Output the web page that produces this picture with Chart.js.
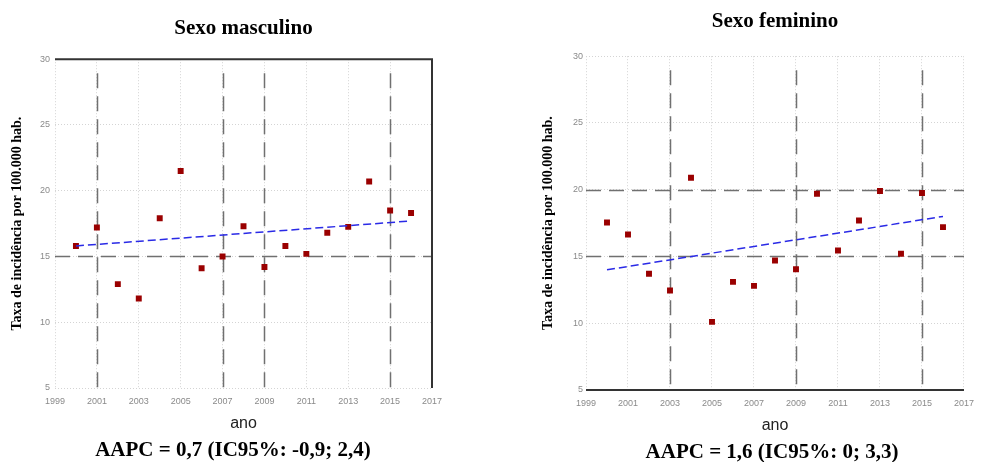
<!DOCTYPE html>
<html lang="pt">
<head>
<meta charset="utf-8">
<title>Taxa de incidência por sexo</title>
<script src="https://cdn.jsdelivr.net/npm/chart.js@4/dist/chart.umd.min.js"></script>
<style>
    body { margin: 0; background: #fff; }
    #wrap { position: relative; width: 982px; height: 462px; overflow: hidden; }
    canvas { position: absolute; top: 0; }
    #c-male { left: 0; }
    #c-female { left: 491px; }
    .aapc {
        position: absolute; width: 400px; text-align: center;
        font: bold 21px 'Liberation Serif', 'Times New Roman', serif; color: #000;
        line-height: 24px;
    }
</style>
</head>
<body>
<div id="wrap">
    <canvas id="c-male" width="491" height="462"></canvas>
    <canvas id="c-female" width="491" height="462"></canvas>
    <div class="aapc" id="aapc-male" style="left:33px; top:437px;">AAPC = 0,7 (IC95%: -0,9; 2,4)</div>
    <div class="aapc" id="aapc-female" style="left:572px; top:439px;">AAPC = 1,6 (IC95%: 0; 3,3)</div>
</div>
<script>
// --- 1. 資料 ---
const years = [2000, 2001, 2002, 2003, 2004, 2005, 2006, 2007, 2008, 2009, 2010, 2011, 2012, 2013, 2014, 2015, 2016];
const maleRates = [15.8, 17.2, 12.9, 11.8, 17.9, 21.5, 14.1, 15.0, 17.3, 14.2, 15.8, 15.2, 16.8, 17.25, 20.7, 18.5, 18.3];
const femaleRates = [17.55, 16.65, 13.7, 12.45, 20.9, 10.1, 13.1, 12.8, 14.7, 14.05, 19.7, 15.45, 17.7, 19.9, 15.2, 19.75, 17.2];

// 趨勢線 (起點、終點)
const trendYears = [2000, 2016];
const maleTrend = [15.8, 17.7];
const femaleTrend = [14.0, 18.0];

// 座標軸
const yearTicks = [1999, 2001, 2003, 2005, 2007, 2009, 2011, 2013, 2015, 2017];
const rateTicks = [5, 10, 15, 20, 25, 30];

// 深色虛線格線
const maleDashYears = [2001, 2007, 2009, 2015];
const maleDashRates = [15];
const femaleDashYears = [2003, 2009, 2015];
const femaleDashRates = [15, 20];

Chart.defaults.font.family = "'Liberation Sans', Arial, sans-serif";
const serif = "'Liberation Serif', 'Times New Roman', serif";

// --- 2. 虛線與外框 ---
const refLines = {
    id: 'refLines',
    beforeDatasetsDraw(chart, args, opts) {
        const { ctx, chartArea: a, scales: { x, y } } = chart;
        ctx.save();
        ctx.strokeStyle = '#707070';
        ctx.lineWidth = 1.5;
        ctx.setLineDash([15, 8]);
        opts.years.forEach(v => {
            const px = Math.round(x.getPixelForValue(v)) + 0.5;
            ctx.beginPath();
            ctx.moveTo(px, a.top + 14);
            ctx.lineTo(px, a.bottom);
            ctx.stroke();
        });
        opts.rates.forEach(v => {
            const py = Math.round(y.getPixelForValue(v)) + 0.5;
            ctx.beginPath();
            ctx.moveTo(a.left, py);
            ctx.lineTo(a.right, py);
            ctx.stroke();
        });
        ctx.setLineDash([]);
        ctx.strokeStyle = '#333';
        ctx.lineWidth = 2;
        if (opts.frame) {
            ctx.beginPath();
            ctx.moveTo(a.left, a.top);
            ctx.lineTo(a.right, a.top);
            ctx.lineTo(a.right, a.bottom);
            ctx.stroke();
        }
        if (opts.baseline) {
            ctx.beginPath();
            ctx.moveTo(a.left, a.bottom);
            ctx.lineTo(a.right, a.bottom);
            ctx.stroke();
        }
        ctx.restore();
    }
};

function toPoints(xs, ys) {
    return xs.map((v, i) => ({ x: v, y: ys[i] }));
}

function createPanel(id, cfg) {
    const ctx = document.getElementById(id);
    return new Chart(ctx, {
        type: 'scatter',
        data: {
            datasets: [{
                label: 'Taxa',
                data: toPoints(years, cfg.rates),
                pointStyle: 'rect',
                pointRadius: 4.2,
                backgroundColor: '#9a0000',
                borderColor: '#9a0000',
                borderWidth: 0,
                order: 2
            }, {
                type: 'line',
                label: 'Tendência',
                data: toPoints(trendYears, cfg.trend),
                borderColor: '#2a2ae6',
                borderWidth: 1.5,
                borderDash: [8, 4],
                pointRadius: 0,
                fill: false,
                order: 1
            }]
        },
        options: {
            responsive: false,
            animation: false,
            layout: { padding: cfg.padding },
            plugins: {
                legend: { display: false },
                tooltip: { enabled: false },
                title: {
                    display: true,
                    text: cfg.title,
                    fullSize: false,
                    color: '#000',
                    font: { family: serif, size: 21, weight: 'bold' },
                    padding: cfg.titlePad
                },
                refLines: { years: cfg.dashYears, rates: cfg.dashRates, frame: cfg.frame, baseline: cfg.baseline }
            },
            scales: {
                x: {
                    type: 'linear',
                    min: 1999, max: 2017,
                    afterBuildTicks: s => { s.ticks = yearTicks.map(v => ({ value: v })); },
                    afterFit: s => { s.height = 45; },
                    ticks: { color: '#8a8a8a', font: { size: 9 }, padding: 8, maxRotation: 0, callback: v => String(v) },
                    grid: { color: '#d4d4d4', drawTicks: false },
                    border: { display: false, dash: [1, 2] },
                    title: { display: true, text: 'ano', color: '#222', font: { size: 16 }, padding: { top: 0, bottom: cfg.anoPad } }
                },
                y: {
                    min: 5, max: 30,
                    afterBuildTicks: s => { s.ticks = rateTicks.map(v => ({ value: v })); },
                    afterFit: s => { s.width = 55; },
                    ticks: { color: '#8a8a8a', font: { size: 9 }, padding: cfg.yTickPad },
                    grid: { color: '#d4d4d4', drawTicks: false },
                    border: { display: false, dash: [1, 2] },
                    title: {
                        display: true,
                        text: 'Taxa de incidência por 100.000 hab.',
                        color: '#000',
                        font: { family: serif, size: 14, weight: 'bold' },
                        padding: { top: 9, bottom: 0 }
                    }
                }
            }
        },
        plugins: [refLines]
    });
}

// --- 3. 繪圖 ---
createPanel('c-male', {
    title: 'Sexo masculino',
    rates: maleRates,
    trend: maleTrend,
    dashYears: maleDashYears,
    dashRates: maleDashRates,
    frame: true,
    baseline: false,
    padding: { left: 0, right: 59, top: 0, bottom: 29 },
    titlePad: { top: 16, bottom: 18 },
    anoPad: 0,
    yTickPad: 5
});

createPanel('c-female', {
    title: 'Sexo feminino',
    rates: femaleRates,
    trend: femaleTrend,
    dashYears: femaleDashYears,
    dashRates: femaleDashRates,
    frame: false,
    baseline: true,
    padding: { left: 40, right: 8, top: 0, bottom: 27 },
    titlePad: { top: 9, bottom: 22 },
    anoPad: 0,
    yTickPad: 3
});
</script>
</body>
</html>
